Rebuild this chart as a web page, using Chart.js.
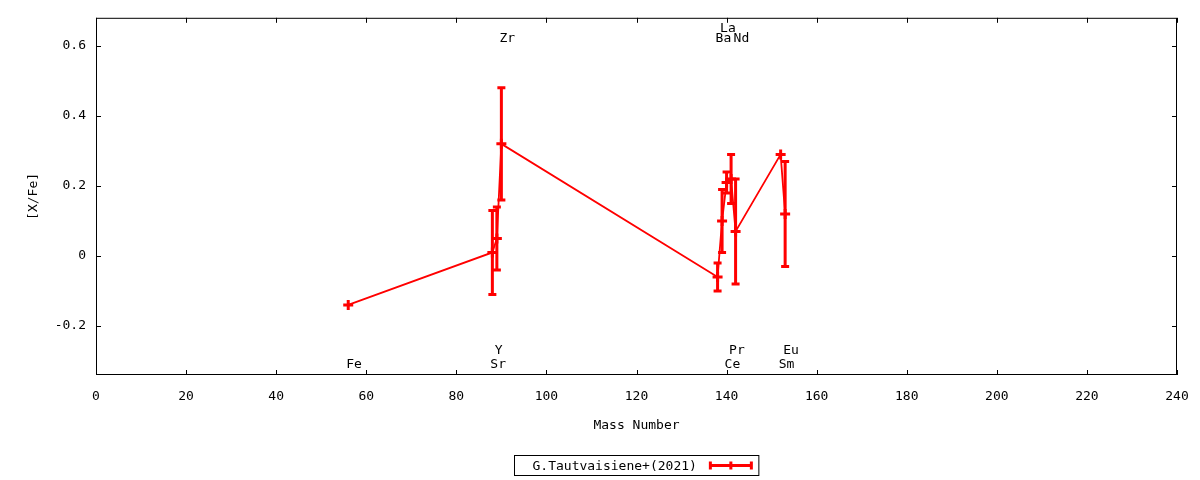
<!DOCTYPE html>
<html lang="en">
<head>
<meta charset="UTF-8">
<title>[X/Fe] vs Mass Number</title>
<script src="https://cdn.jsdelivr.net/npm/chart.js"></script>
<style>
  body { margin: 0; background: #fff; }
  #wrap { width: 1200px; height: 480px; position: relative; }
</style>
</head>
<body>
<div id="wrap"><canvas id="abund"></canvas></div>
<script>
  // abundances
  const elements    = ['Fe', 'Sr', 'Y', 'Zr', 'Ba', 'La', 'Ce', 'Pr', 'Nd', 'Sm', 'Eu'];
  const massNumbers = [56, 88, 89, 90, 138, 139, 140, 141, 142, 152, 153];
  const xFe         = [-0.14, 0.01, 0.05, 0.32, -0.06, 0.10, 0.21, 0.22, 0.07, 0.29, 0.12];
  const xFeErr      = [0.0, 0.12, 0.09, 0.16, 0.04, 0.09, 0.03, 0.07, 0.15, 0.0, 0.15];
  // height of the element name labels, in [X/Fe] units
  const labelY      = [-0.31, -0.31, -0.27, 0.62, 0.62, 0.65, -0.31, -0.27, 0.62, -0.31, -0.27];
  const xTicks = [0, 20, 40, 60, 80, 100, 120, 140, 160, 180, 200, 220, 240];
  const yTicks = [-0.2, 0, 0.2, 0.4, 0.6];
  const seriesName = 'G.Tautvaisiene+(2021)';

  const RED = '#ff0000';
  const FONT = "'DejaVu Sans Mono', monospace";

  Chart.defaults.font.family = FONT;
  Chart.defaults.font.size = 13;
  Chart.defaults.color = '#000';

  const gnuplotLook = {
    id: 'gnuplotLook',
    afterDatasetsDraw(chart) {
      const { ctx, scales: { x, y } } = chart;
      ctx.save();
      ctx.strokeStyle = RED;
      ctx.lineWidth = 3;
      massNumbers.forEach((m, i) => {
        if (!xFeErr[i]) return;
        const px = x.getPixelForValue(m);
        const top = y.getPixelForValue(xFe[i] + xFeErr[i]);
        const bot = y.getPixelForValue(xFe[i] - xFeErr[i]);
        ctx.beginPath();
        ctx.moveTo(px, top); ctx.lineTo(px, bot);
        ctx.moveTo(px - 4, top); ctx.lineTo(px + 4, top);
        ctx.moveTo(px - 4, bot); ctx.lineTo(px + 4, bot);
        ctx.stroke();
      });
      ctx.restore();
    },
    afterDraw(chart) {
      const { ctx, chartArea: a, scales: { x, y } } = chart;
      ctx.save();

      // frame and inward ticks on all four sides
      ctx.strokeStyle = '#000';
      ctx.lineWidth = 1;
      ctx.strokeRect(a.left + 0.5, a.top + 0.5, a.right - a.left - 1, a.bottom - a.top - 1);
      ctx.beginPath();
      xTicks.forEach(v => {
        const px = Math.round(x.getPixelForValue(v)) + 0.5;
        ctx.moveTo(px, a.bottom); ctx.lineTo(px, a.bottom - 5);
        ctx.moveTo(px, a.top); ctx.lineTo(px, a.top + 5);
      });
      yTicks.forEach(v => {
        const py = Math.round(y.getPixelForValue(v)) + 0.5;
        ctx.moveTo(a.left, py); ctx.lineTo(a.left + 5, py);
        ctx.moveTo(a.right, py); ctx.lineTo(a.right - 5, py);
      });
      ctx.stroke();

      // element names
      ctx.fillStyle = '#000';
      ctx.font = '13px ' + FONT;
      ctx.textAlign = 'left';
      ctx.textBaseline = 'middle';
      elements.forEach((el, i) => {
        ctx.fillText(el, x.getPixelForValue(massNumbers[i]) - 2, y.getPixelForValue(labelY[i]));
      });

      // legend box under the axis title
      const textW = ctx.measureText(seriesName).width;
      const boxW = 18 + textW + 12 + 44 + 6;
      const cx = (a.left + a.right) / 2;
      const bx = Math.round(cx - boxW / 2) + 0.5;
      const by = 455.5, bh = 20;
      ctx.strokeRect(bx, by, boxW, bh);
      ctx.fillText(seriesName, bx + 18, by + bh / 2 + 1);
      const sx = bx + 18 + textW + 12, sy = by + bh / 2;
      ctx.strokeStyle = RED;
      ctx.lineWidth = 3;
      ctx.beginPath();
      ctx.moveTo(sx, sy); ctx.lineTo(sx + 44, sy);
      ctx.moveTo(sx + 1.5, sy - 4); ctx.lineTo(sx + 1.5, sy + 4);
      ctx.moveTo(sx + 42.5, sy - 4); ctx.lineTo(sx + 42.5, sy + 4);
      ctx.moveTo(sx + 22, sy - 4); ctx.lineTo(sx + 22, sy + 4);
      ctx.stroke();

      ctx.restore();
    }
  };

  new Chart(document.getElementById('abund'), {
    type: 'scatter',
    data: {
      datasets: [{
        label: seriesName,
        data: massNumbers.map((m, i) => ({ x: m, y: xFe[i] })),
        showLine: true,
        borderColor: RED,
        borderWidth: 1.8,
        tension: 0,
        pointStyle: 'cross',
        pointRadius: 5,
        pointBorderWidth: 3,
        pointBorderColor: RED,
        pointBackgroundColor: RED
      }]
    },
    options: {
      responsive: true,
      maintainAspectRatio: false,
      animation: false,
      layout: { padding: { top: 17, right: 23, left: 0, bottom: 0 } },
      plugins: {
        legend: { display: false },
        tooltip: { enabled: false }
      },
      scales: {
        x: {
          type: 'linear',
          min: 0,
          max: 240,
          grid: { display: false, drawTicks: false },
          border: { display: false },
          afterBuildTicks: s => { s.ticks = xTicks.map(v => ({ value: v })); },
          afterFit: s => { s.height = 105; s.paddingRight = 0; },
          ticks: { padding: 14, maxRotation: 0 },
          title: { display: true, text: 'Mass Number', padding: { top: 0, bottom: 47 } }
        },
        y: {
          type: 'linear',
          min: -0.34,
          max: 0.68,
          grid: { display: false, drawTicks: false },
          border: { display: false },
          afterBuildTicks: s => { s.ticks = yTicks.map(v => ({ value: v })); },
          afterFit: s => { s.width = 96; },
          ticks: {
            padding: 10,
            callback: v => String(Math.round(v * 10) / 10)
          },
          title: { display: true, text: '[X/Fe]', padding: { top: 26, bottom: 0 } }
        }
      }
    },
    plugins: [gnuplotLook]
  });
</script>
</body>
</html>
